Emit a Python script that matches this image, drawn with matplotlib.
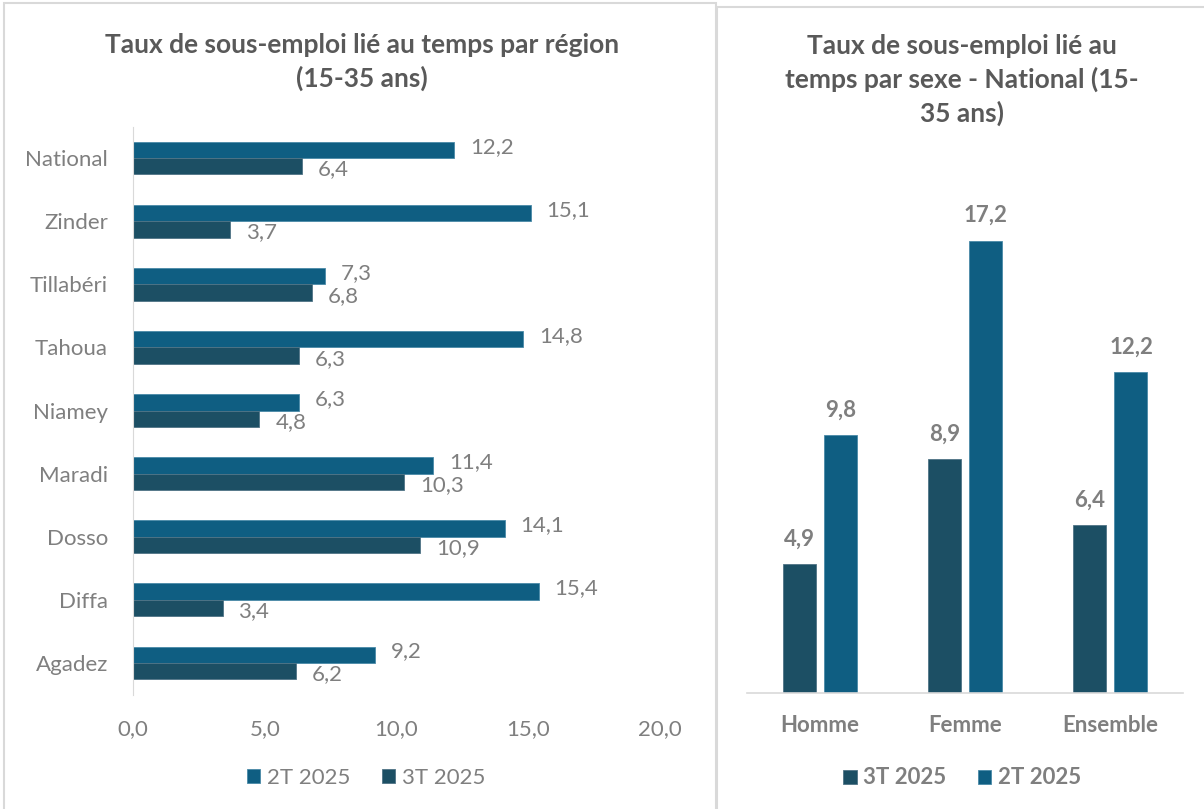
import numpy as np
import matplotlib.pyplot as plt
from matplotlib.patches import Rectangle

plt.rcParams['font.family'] = ['Lato', 'DejaVu Sans']

# left chart: regions (bottom to top)
regions = ['Agadez', 'Diffa', 'Dosso', 'Maradi', 'Niamey', 'Tahoua', 'Tillabéri', 'Zinder', 'National']
t2_reg = [9.2, 15.4, 14.1, 11.4, 6.3, 14.8, 7.3, 15.1, 12.2]
t3_reg = [6.2, 3.4, 10.9, 10.3, 4.8, 6.3, 6.8, 3.7, 6.4]

# right chart: by sex
sexes = ['Homme', 'Femme', 'Ensemble']
t3_sex = [4.9, 8.9, 6.4]
t2_sex = [9.8, 17.2, 12.2]

c2 = '#0f5e82'
c3 = '#1c4f64'
txt = '#7f7f7f'
ttl = '#595959'
fs = 16

def fmt(v):
    return ('%.1f' % v).replace('.', ',')

fig = plt.figure(figsize=(12.04, 8.09), dpi=100)
W, H = 1204, 809

# panel borders
fig.patches.append(Rectangle((4 / W, -0.01), 712 / W, 1 - 3 / H + 0.01, transform=fig.transFigure,
                             fill=False, edgecolor='#d9d9d9', lw=1.5))
fig.patches.append(Rectangle((717 / W, -0.01), 0.5, 1 - 7 / H + 0.01, transform=fig.transFigure,
                             fill=False, edgecolor='#d9d9d9', lw=1.5))

# ---- left chart
ax1 = fig.add_axes([133 / W, 1 - 694.5 / H, 527 / W, 568 / H])
y = np.arange(len(regions))
h = 0.26
ax1.barh(y + h / 2, t2_reg, h, color=c2, edgecolor='#4a8aa8', lw=0.6, label='2T 2025')
ax1.barh(y - h / 2, t3_reg, h, color=c3, edgecolor='#4f7385', lw=0.6, label='3T 2025')
for i in range(len(regions)):
    ax1.text(t2_reg[i] + 0.6, y[i] + h / 2 + 0.05, fmt(t2_reg[i]), va='center', ha='left', color=txt, fontsize=fs)
    ax1.text(t3_reg[i] + 0.6, y[i] - h / 2 - 0.05, fmt(t3_reg[i]), va='center', ha='left', color=txt, fontsize=fs)
ax1.set_xlim(0, 20)
ax1.set_ylim(-0.5, len(regions) - 0.5)
ax1.set_yticks(y)
ax1.set_yticklabels(regions)
ax1.set_xticks([0, 5, 10, 15, 20])
ax1.set_xticklabels([fmt(v) for v in [0, 5, 10, 15, 20]])
ax1.tick_params(length=0, colors=txt, labelsize=fs)
ax1.tick_params(axis='x', pad=18)
ax1.tick_params(axis='y', pad=18)
for s in ['top', 'right', 'bottom']:
    ax1.spines[s].set_visible(False)
ax1.spines['left'].set_color('#d9d9d9')
ax1.set_facecolor('none')
fig.text(362 / W, 1 - 62 / H, 'Taux de sous-emploi lié au temps par région\n(15-35 ans)', ha='center', va='center',
         fontsize=19, fontweight='bold', color=ttl, linespacing=1.4)
fig.legend(*ax1.get_legend_handles_labels(), loc='center', bbox_to_anchor=(366 / W, 1 - 778 / H), ncol=2,
           frameon=False, fontsize=fs, labelcolor=txt, handlelength=0.6, handleheight=0.6, handletextpad=0.3,
           columnspacing=1.4)

# ---- right chart
ax2 = fig.add_axes([747 / W, 1 - 693 / H, 436 / W, 526 / H])
x = np.arange(len(sexes))
w = 0.227
off = 0.142
ax2.bar(x - off, t3_sex, w, color=c3, edgecolor='#4f7385', lw=0.6, label='3T 2025')
ax2.bar(x + off, t2_sex, w, color=c2, edgecolor='#4a8aa8', lw=0.6, label='2T 2025')
for i in range(len(sexes)):
    ax2.text(x[i] - off, t3_sex[i] + 0.55, fmt(t3_sex[i]), ha='center', va='bottom', color=txt,
             fontsize=fs, fontweight='bold')
    ax2.text(x[i] + off, t2_sex[i] + 0.55, fmt(t2_sex[i]), ha='center', va='bottom', color=txt,
             fontsize=fs, fontweight='bold')
ax2.set_xlim(-0.5, 2.5)
ax2.set_ylim(0, 20)
ax2.set_xticks(x)
ax2.set_xticklabels(sexes, fontweight='bold')
ax2.set_yticks([])
ax2.tick_params(length=0, colors=txt, labelsize=fs, pad=16)
for s in ['top', 'right', 'left']:
    ax2.spines[s].set_visible(False)
ax2.spines['bottom'].set_color('#d9d9d9')
ax2.spines['bottom'].set_linewidth(1.2)
ax2.set_facecolor('none')
fig.text(962 / W, 1 - 80 / H, 'Taux de sous-emploi lié au\ntemps par sexe - National (15-\n35 ans)', ha='center',
         va='center', fontsize=19, fontweight='bold', color=ttl, linespacing=1.4)
fig.legend(*ax2.get_legend_handles_labels(), loc='center', bbox_to_anchor=(962 / W, 1 - 778 / H), ncol=2,
           frameon=False, labelcolor=txt, handlelength=0.6, handleheight=0.6,
           handletextpad=0.3, columnspacing=1.4, prop={'weight': 'bold', 'size': fs})

plt.savefig('out.png', dpi=100)
